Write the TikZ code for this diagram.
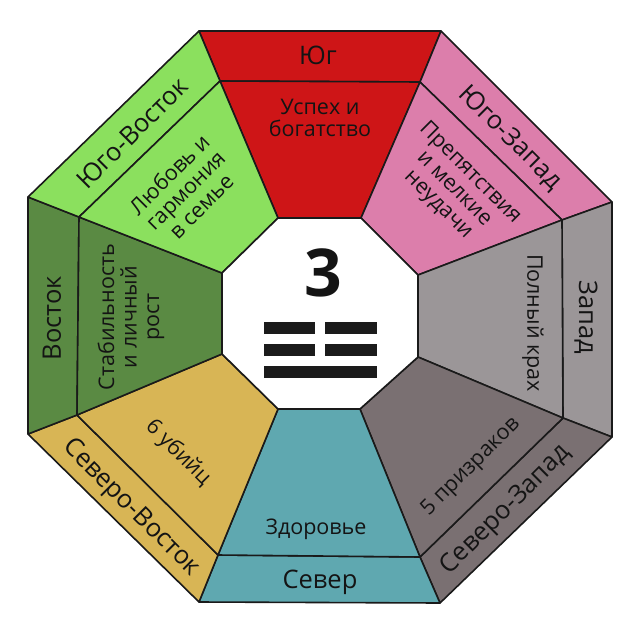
\documentclass[tikz,border=0pt]{standalone}
\usepackage{fontspec}
\setmainfont{Open Sans}
\definecolor{cS}{RGB}{206,21,23}
\definecolor{cSW}{RGB}{220,126,171}
\definecolor{cW}{RGB}{155,150,152}
\definecolor{cNW}{RGB}{122,112,114}
\definecolor{cN}{RGB}{95,168,176}
\definecolor{cNE}{RGB}{216,181,85}
\definecolor{cE}{RGB}{90,138,67}
\definecolor{cSE}{RGB}{139,224,94}
\definecolor{linec}{RGB}{26,26,26}
\definecolor{txtc}{RGB}{20,20,20}
\definecolor{barc}{RGB}{27,27,27}
\tikzset{
  sector/.style={draw=linec, line width=1.6pt, line join=round},
  outerlbl/.style={font=\fontsize{25.5}{27}\selectfont, text=txtc, inner sep=0pt},
  innerlbl/.style={font=\fontsize{21.5}{22.5}\selectfont, text=txtc, align=center, inner sep=0pt},
  bar/.style={fill=barc, draw=none}
}
\begin{document}
\begin{tikzpicture}[x=1pt,y=-1pt]
\useasboundingbox (0,0) rectangle (640,635);
% outer vertices
\coordinate (O1) at (199,31);
\coordinate (O2) at (441,31);
\coordinate (O3) at (612,202);
\coordinate (O4) at (612,437);
\coordinate (O5) at (440,603);
\coordinate (O6) at (199,602);
\coordinate (O7) at (28,434);
\coordinate (O8) at (28,197);
% middle vertices
\coordinate (M1) at (220,81);
\coordinate (M2) at (420,82);
\coordinate (M3) at (562,220);
\coordinate (M4) at (563,418);
\coordinate (M5) at (420,557);
\coordinate (M6) at (218,555);
\coordinate (M7) at (77,415);
\coordinate (M8) at (79,217);
% inner vertices
\coordinate (I1) at (278,218);
\coordinate (I2) at (361,218);
\coordinate (I3) at (418,275);
\coordinate (I4) at (418,357);
\coordinate (I5) at (360,409);
\coordinate (I6) at (278,409);
\coordinate (I7) at (222,354);
\coordinate (I8) at (222,273);
% sectors: outer bands
\filldraw[sector, fill=cS]  (O1) -- (O2) -- (M2) -- (M1) -- cycle;
\filldraw[sector, fill=cSW] (O2) -- (O3) -- (M3) -- (M2) -- cycle;
\filldraw[sector, fill=cW]  (O3) -- (O4) -- (M4) -- (M3) -- cycle;
\filldraw[sector, fill=cNW] (O4) -- (O5) -- (M5) -- (M4) -- cycle;
\filldraw[sector, fill=cN]  (O5) -- (O6) -- (M6) -- (M5) -- cycle;
\filldraw[sector, fill=cNE] (O6) -- (O7) -- (M7) -- (M6) -- cycle;
\filldraw[sector, fill=cE]  (O7) -- (O8) -- (M8) -- (M7) -- cycle;
\filldraw[sector, fill=cSE] (O8) -- (O1) -- (M1) -- (M8) -- cycle;
% sectors: inner trapezoids
\filldraw[sector, fill=cS]  (M1) -- (M2) -- (I2) -- (I1) -- cycle;
\filldraw[sector, fill=cSW] (M2) -- (M3) -- (I3) -- (I2) -- cycle;
\filldraw[sector, fill=cW]  (M3) -- (M4) -- (I4) -- (I3) -- cycle;
\filldraw[sector, fill=cNW] (M4) -- (M5) -- (I5) -- (I4) -- cycle;
\filldraw[sector, fill=cN]  (M5) -- (M6) -- (I6) -- (I5) -- cycle;
\filldraw[sector, fill=cNE] (M6) -- (M7) -- (I7) -- (I6) -- cycle;
\filldraw[sector, fill=cE]  (M7) -- (M8) -- (I8) -- (I7) -- cycle;
\filldraw[sector, fill=cSE] (M8) -- (M1) -- (I1) -- (I8) -- cycle;
% centre
\filldraw[sector, fill=white] (I1) -- (I2) -- (I3) -- (I4) -- (I5) -- (I6) -- (I7) -- (I8) -- cycle;
% outer labels
\node[outerlbl] (tS)  at (318,55) {Юг};
\node[outerlbl, rotate=-45] (tSW) at (510,138) {Юго-Запад};
\node[outerlbl, rotate=-90] (tW)  at (586,317) {Запад};
\node[outerlbl, rotate=45]  (tNW) at (506,510) {Северо-Запад};
\node[outerlbl] (tN)  at (320,582) {Север};
\node[outerlbl, rotate=-45] (tNE) at (131,508) {Северо-Восток};
\node[outerlbl, rotate=90]  (tE)  at (52,318) {Восток};
\node[outerlbl, rotate=45]  (tSE) at (132,133) {Юго-Восток};
% inner labels
\node[innerlbl] (mS) at (320,118) {Успех и\\богатство};
\node[innerlbl, rotate=-45] (mSW) at (454,189) {Препятствия\\и мелкие\\неудачи};
\node[innerlbl, rotate=-90] (mW) at (533,323) {Полный крах};
\node[innerlbl, rotate=45] (mNW) at (471,467) {5 призраков};
\node[innerlbl] (mN) at (316,529) {Здоровье};
\node[innerlbl, rotate=-45] (mNE) at (178,453) {6 убийц};
\node[innerlbl, rotate=90] (mE) at (131,317) {Стабильность\\и личный\\рост};
\node[innerlbl, rotate=45] (mSE) at (185,190) {Любовь и\\гармония\\в семье};
% centre number and trigram
\node[font=\fontsize{66}{70}\selectfont\bfseries, text=txtc, inner sep=0pt] (num) at (323,273) {3};
\fill[bar] (264,322) rectangle (315,334);
\fill[bar] (325,322) rectangle (377,334);
\fill[bar] (264,344) rectangle (315,356);
\fill[bar] (325,344) rectangle (377,356);
\fill[bar] (264,366) rectangle (377,378);
\end{tikzpicture}
\end{document}
